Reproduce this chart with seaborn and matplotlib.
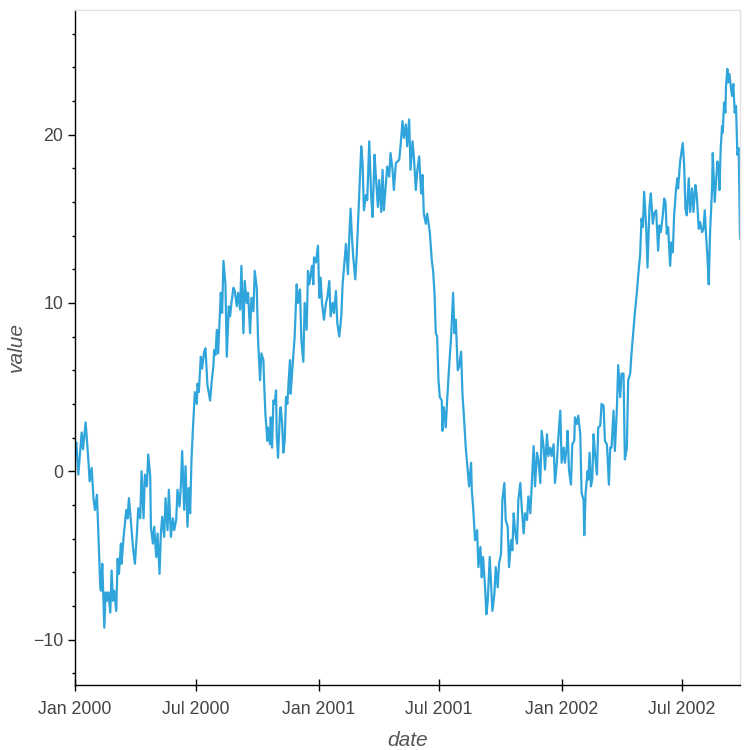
import matplotlib
matplotlib.use("Agg")
import matplotlib.pyplot as plt
import matplotlib.dates as mdates
from matplotlib.ticker import MultipleLocator
import pandas as pd
import seaborn as sns

# values (days since 2000-01-01)
days = [
    0, 2, 5, 10, 12, 16, 20, 22, 25, 28,
    30, 33, 38, 39, 41, 44, 46, 48, 50, 53,
    55, 57, 59, 62, 64, 66, 69, 70, 73, 77,
    79, 81, 84, 87, 90, 93, 95, 98, 100, 103,
    105, 108, 110, 113, 114, 117, 119, 122, 124, 127,
    129, 131, 134, 136, 139, 141, 144, 147, 149, 152,
    154, 157, 159, 161, 164, 166, 169, 171, 173, 175,
    177, 180, 183, 184, 186, 189, 191, 194, 196, 199,
    203, 205, 208, 209, 211, 213, 215, 218, 219, 221,
    223, 226, 228, 231, 233, 235, 238, 240, 243, 245,
    248, 250, 253, 255, 258, 260, 263, 265, 268, 270,
    273, 275, 278, 280, 283, 284, 286, 289, 290, 293,
    294, 296, 298, 300, 302, 303, 305, 308, 309, 311,
    313, 315, 317, 319, 321, 323, 324, 326, 330, 333,
    335, 338, 340, 343, 345, 348, 350, 352, 356, 358,
    359, 362, 365, 367, 369, 371, 374, 377, 379, 382,
    384, 387, 389, 392, 394, 397, 400, 402, 407, 410,
    412, 414, 416, 418, 421, 423, 426, 428, 430, 432,
    434, 437, 439, 442, 445, 447, 450, 452, 455, 457,
    460, 462, 464, 467, 469, 472, 474, 477, 479, 482,
    487, 489, 492, 494, 497, 499, 502, 504, 507, 509,
    512, 514, 517, 520, 522, 524, 527, 529, 533, 536,
    538, 540, 542, 544, 546, 548, 551, 552, 554, 557,
    559, 562, 565, 568, 570, 572, 575, 577, 580, 582,
    584, 587, 589, 592, 595, 596, 598, 601, 604, 606,
    609, 611, 613, 616, 618, 620, 623, 625, 627, 630,
    632, 635, 637, 640, 642, 645, 647, 650, 652, 655,
    657, 659, 661, 664, 666, 669, 671, 674, 676, 679,
    681, 684, 686, 689, 691, 694, 696, 699, 701, 704,
    706, 709, 711, 714, 716, 719, 721, 724, 726, 729,
    731, 734, 736, 739, 740, 742, 745, 747, 750, 751,
    754, 756, 759, 761, 764, 765, 767, 770, 771, 773,
    775, 777, 779, 781, 784, 786, 789, 791, 794, 796,
    799, 800, 802, 804, 806, 809, 811, 814, 816, 819,
    821, 824, 826, 829, 831, 834, 836, 839, 841, 844,
    846, 849, 851, 853, 855, 858, 860, 863, 865, 868,
    870, 873, 876, 878, 880, 883, 885, 887, 889, 891,
    894, 896, 898, 900, 903, 905, 906, 909, 913, 915,
    917, 919, 922, 924, 927, 929, 932, 934, 937, 939,
    942, 944, 946, 948, 950, 952, 954, 957, 958, 961,
    963, 965, 967, 968, 970, 972, 973, 975, 977, 978,
    980, 981, 983, 985, 987, 989, 991, 993, 995, 997, 999,
]
values = [
    1.2, 1.7, -0.2, 2.3, 1.3, 2.9, 0.7, -0.6, 0.2, -1.7,
    -2.3, -1.4, -6.9, -7.1, -5.5, -9.3, -7.2, -7.7, -7.2, -8.4,
    -5.9, -7.7, -7.1, -8.3, -5.2, -6.1, -4.3, -5.5, -3.9, -2.3,
    -2.8, -1.6, -3.0, -4.5, -5.5, -3.7, -2.2, -2.8, 0.0, -2.8,
    -0.2, -0.9, 1.0, -0.3, -3.3, -4.3, -3.3, -5.1, -3.7, -6.1,
    -3.7, -2.7, -3.9, -1.6, -3.5, -1.1, -3.9, -2.8, -3.5, -2.9,
    -1.1, -2.1, -0.9, 1.2, -2.3, 0.3, -3.3, -1.0, -2.5, 0.7,
    2.4, 4.7, 4.0, 5.2, 4.7, 6.8, 6.1, 7.1, 7.3, 5.1,
    4.2, 5.2, 6.3, 7.2, 6.9, 8.4, 7.0, 9.6, 10.6, 9.4,
    12.5, 11.1, 6.8, 9.8, 9.2, 10.0, 10.9, 10.7, 9.8, 10.6,
    9.6, 12.2, 8.2, 11.3, 10.0, 10.6, 8.2, 10.3, 9.5, 11.9,
    10.9, 7.8, 5.4, 7.0, 6.6, 5.4, 3.4, 1.8, 2.6, 1.6,
    3.2, 1.4, 4.2, 4.0, 4.8, 2.2, 0.8, 3.6, 3.8, 2.9,
    1.1, 1.8, 4.4, 4.0, 5.4, 6.6, 4.6, 5.8, 8.0, 11.1,
    10.0, 10.8, 7.8, 6.5, 10.0, 8.4, 11.9, 11.1, 12.2, 11.1,
    12.7, 12.4, 13.4, 10.3, 11.5, 10.0, 9.0, 10.0, 10.3, 11.3,
    9.2, 10.0, 9.4, 10.7, 8.8, 8.0, 9.2, 11.1, 13.5, 11.7,
    13.9, 15.6, 13.9, 12.7, 11.4, 12.7, 15.5, 17.5, 19.3, 18.3,
    15.5, 16.4, 16.1, 19.6, 16.3, 15.1, 18.8, 17.5, 15.7, 17.3,
    15.4, 17.9, 15.5, 17.1, 18.1, 17.5, 18.9, 17.9, 16.7, 18.3,
    18.5, 19.3, 20.8, 19.8, 20.6, 19.3, 20.9, 17.9, 19.6, 18.7,
    16.7, 17.8, 18.7, 16.5, 17.6, 15.3, 14.7, 15.3, 14.2, 12.5,
    11.9, 10.6, 8.2, 8.0, 5.4, 4.4, 4.2, 2.4, 3.8, 2.6,
    4.2, 6.2, 8.0, 10.6, 8.2, 9.0, 6.0, 6.2, 7.1, 4.6,
    3.4, 1.4, 0.5, -0.9, 0.5, -1.1, -2.1, -4.1, -3.5, -5.7,
    -4.5, -6.3, -5.1, -6.9, -8.5, -7.7, -5.1, -6.7, -8.3, -7.3,
    -5.7, -6.9, -5.5, -4.9, -1.7, -0.7, -2.9, -3.3, -5.7, -4.1,
    -4.7, -2.5, -3.5, -4.3, -1.7, -0.7, -2.1, -3.7, -2.5, -2.9,
    -1.5, -2.5, -0.9, 1.5, -0.9, 1.1, 0.7, -0.7, 2.4, 1.4,
    0.1, 2.2, 0.9, 1.4, 0.9, 1.6, -0.7, 0.6, 2.0, 3.6,
    0.5, 1.4, 0.5, 1.6, 2.4, 0.1, -0.8, 1.6, 1.8, 3.2,
    2.8, 3.3, 2.2, -1.3, -1.7, -3.8, -1.3, 0.0, -0.5, 1.1,
    -0.9, -0.5, 2.2, 1.1, -0.2, 2.6, 2.7, 4.0, 3.9, 1.8,
    1.6, 0.9, -0.8, 1.4, 1.4, 3.6, 1.2, 3.7, 6.3, 4.4,
    5.8, 5.8, 0.7, 1.4, 5.4, 5.8, 7.0, 8.4, 9.4, 10.6,
    11.6, 12.9, 15.0, 14.5, 16.6, 14.5, 12.1, 15.7, 16.5, 14.7,
    15.3, 15.5, 13.1, 14.6, 14.2, 15.2, 16.2, 16.0, 14.1, 14.5,
    12.2, 13.6, 13.0, 15.2, 16.8, 17.4, 16.8, 18.4, 19.5, 18.2,
    15.6, 15.2, 17.4, 15.4, 16.8, 15.4, 17.0, 16.4, 14.4, 14.8,
    14.2, 14.4, 15.5, 14.0, 12.8, 11.1, 14.2, 16.8, 18.9, 16.0,
    17.2, 18.4, 18.0, 16.7, 19.2, 20.5, 20.1, 21.9, 21.3, 22.9,
    23.9, 23.1, 23.6, 22.9, 22.3, 23.0, 21.3, 21.7, 18.8, 19.2, 13.8,
]
assert len(days) == len(values)

df = pd.DataFrame({
    "date": pd.Timestamp("2000-01-01") + pd.to_timedelta(days, unit="D"),
    "value": values,
})

sns.set_style("ticks")
plt.rcParams["font.family"] = ["Liberation Sans", "DejaVu Sans"]

fig = plt.figure(figsize=(7.5, 7.5), dpi=100)
ax = fig.add_axes([0.1, 0.0867, 0.8867, 0.9])

sns.lineplot(data=df, x="date", y="value", ax=ax, color="#30a5db", linewidth=1.6)

ax.set_xlim(df["date"].min(), df["date"].max())
ax.set_ylim(-12.7, 27.4)

ax.xaxis.set_major_locator(mdates.MonthLocator(bymonth=[1, 7]))
ax.xaxis.set_major_formatter(mdates.DateFormatter("%b %Y"))
ax.yaxis.set_major_locator(MultipleLocator(10))
ax.yaxis.set_minor_locator(MultipleLocator(2))

for side in ["top", "right"]:
    ax.spines[side].set_color("#e3e3e3")
    ax.spines[side].set_linewidth(1)
for side in ["left", "bottom"]:
    ax.spines[side].set_color("black")
    ax.spines[side].set_linewidth(1)

ax.tick_params(axis="x", which="major", direction="inout", length=8, width=1,
               color="black", labelsize=12.8, labelcolor="#444444", pad=7.5)
ax.tick_params(axis="y", which="major", direction="out", length=5, width=1,
               color="black", labelsize=12.8, labelcolor="#444444", pad=3.5)
ax.tick_params(axis="y", which="minor", direction="out", length=2.5, width=1,
               color="black")

ax.set_xlabel("date", fontsize=15, style="italic", color="#555555", labelpad=9.5)
ax.set_ylabel("value", fontsize=15, style="italic", color="#555555", labelpad=5)

fig.savefig("out.png", dpi=100)
